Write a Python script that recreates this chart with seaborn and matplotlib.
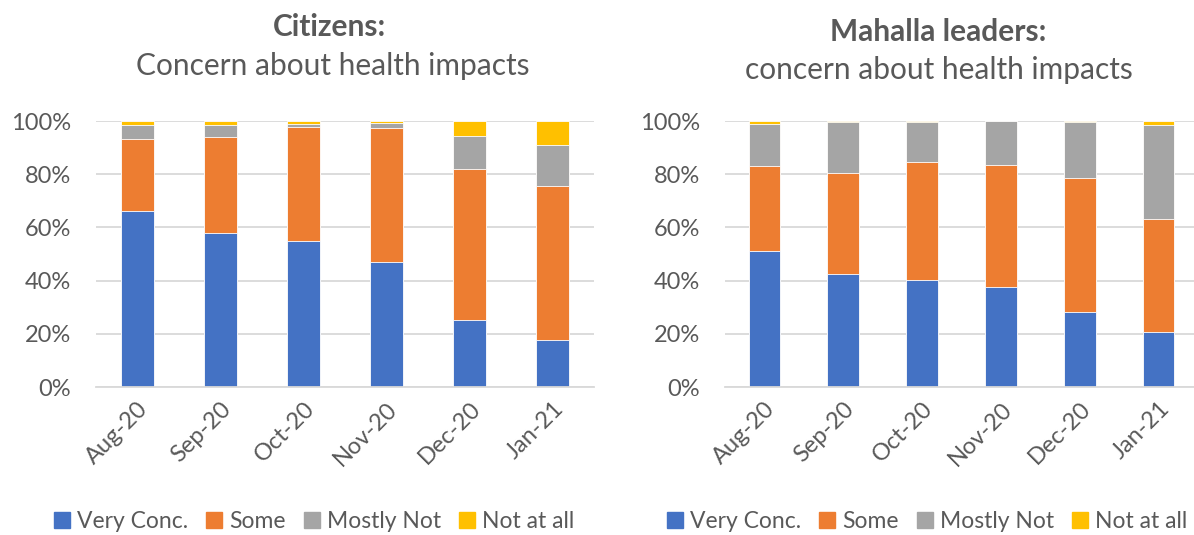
import numpy as np
import pandas as pd
import seaborn as sns
import matplotlib.pyplot as plt
from matplotlib.lines import Line2D
from matplotlib.ticker import FuncFormatter, FixedLocator

months = ["Aug-20", "Sep-20", "Oct-20", "Nov-20", "Dec-20", "Jan-21"]
levels = ["Very Conc.", "Some", "Mostly Not", "Not at all"]
colors = ["#4472C4", "#ED7D31", "#A5A5A5", "#FFC000"]

# Citizens: share of responses (%)
cit_very = [66.2, 57.9, 55.0, 46.9, 25.2, 17.8]
cit_some = [27.0, 36.2, 42.7, 50.5, 56.8, 57.8]
cit_mostly = [5.2, 4.4, 1.2, 1.8, 12.4, 15.4]
cit_notatall = [1.6, 1.5, 1.1, 0.8, 5.6, 9.0]

# Mahalla leaders: share of responses (%)
lead_very = [51.0, 42.6, 40.2, 37.7, 28.1, 20.8]
lead_some = [32.1, 37.7, 44.5, 45.6, 50.3, 42.4]
lead_mostly = [15.8, 19.4, 14.9, 16.7, 21.2, 35.3]
lead_notatall = [1.1, 0.3, 0.4, 0.0, 0.4, 1.5]

sns.set_theme(style="white")
plt.rcParams["font.family"] = ["Lato", "DejaVu Sans"]
TXT = "#595959"
GRID = "#D9D9D9"

W, H = 1194, 535
fig = plt.figure(figsize=(W / 100, H / 100), dpi=100)


def px_axes(x0, x1, y0, y1):
    return fig.add_axes([x0 / W, 1 - y1 / H, (x1 - x0) / W, (y1 - y0) / H])


def stacked(ax, series, boundary_ticks):
    df = pd.DataFrame({"month": months})
    cum = np.zeros(len(months))
    cums = []
    for s in series:
        cum = cum + np.asarray(s)
        cums.append(cum.copy())
    # draw from the full stack down so each lower segment covers the one above
    for lvl, c, col in reversed(list(zip(levels, cums, colors))):
        df[lvl] = c
        sns.barplot(data=df, x="month", y=lvl, color=col, width=0.4,
                    saturation=1, edgecolor="white", linewidth=0.6, ax=ax)
    ax.set_xlim(-0.5, 5.5)
    ax.set_ylim(0, 100)
    ax.set_yticks(np.arange(0, 101, 20))
    ax.yaxis.set_major_formatter(FuncFormatter(lambda v, p: f"{v:.0f}%"))
    ax.set_xlabel("")
    ax.set_ylabel("")
    ax.grid(axis="y", color=GRID, lw=1.3, zorder=0)
    ax.set_axisbelow(True)
    for side in ["left", "right", "top"]:
        ax.spines[side].set_visible(False)
    ax.spines["bottom"].set_color(GRID)
    ax.spines["bottom"].set_linewidth(1.3)
    ax.tick_params(axis="y", length=0, labelsize=17, labelcolor=TXT, pad=18)
    ax.tick_params(axis="x", which="major", length=0, labelsize=17,
                   labelcolor=TXT, pad=8)
    for lab in ax.get_xticklabels():
        lab.set_rotation(45)
        lab.set_ha("right")
        lab.set_va("top")
        lab.set_rotation_mode("anchor")
    if boundary_ticks:
        ax.xaxis.set_minor_locator(FixedLocator(np.arange(-0.5, 6, 1)))
        ax.tick_params(axis="x", which="minor", length=8, width=1.3,
                       color=GRID)


ax1 = px_axes(96, 594, 121, 387)
stacked(ax1, [cit_very, cit_some, cit_mostly, cit_notatall], True)

ax2 = px_axes(725, 1198, 121, 387)
stacked(ax2, [lead_very, lead_some, lead_mostly, lead_notatall], False)

# titles
fig.text(330 / W, 1 - 27 / H, "Citizens:", ha="center", va="center",
         fontsize=21.5, fontweight="bold", color=TXT)
fig.text(333 / W, 1 - 66 / H, "Concern about health impacts", ha="center",
         va="center", fontsize=21.5, color=TXT)
fig.text(938 / W, 1 - 32 / H, "Mahalla leaders:", ha="center", va="center",
         fontsize=21.5, fontweight="bold", color=TXT)
fig.text(939 / W, 1 - 70 / H, "concern about health impacts", ha="center",
         va="center", fontsize=21.5, color=TXT)

handles = [Line2D([0], [0], marker="s", linestyle="none", markersize=11,
                  markerfacecolor=c, markeredgecolor=c) for c in colors]
for cx in (314, 927):
    leg = fig.legend(handles, levels, loc="center", ncol=4,
                     bbox_to_anchor=(cx / W, 1 - 522 / H), frameon=False,
                     fontsize=16.5, handlelength=0.7, handletextpad=0.3,
                     columnspacing=0.8, borderaxespad=0)
    for t in leg.get_texts():
        t.set_color(TXT)

fig.savefig("out.png", dpi=100)
